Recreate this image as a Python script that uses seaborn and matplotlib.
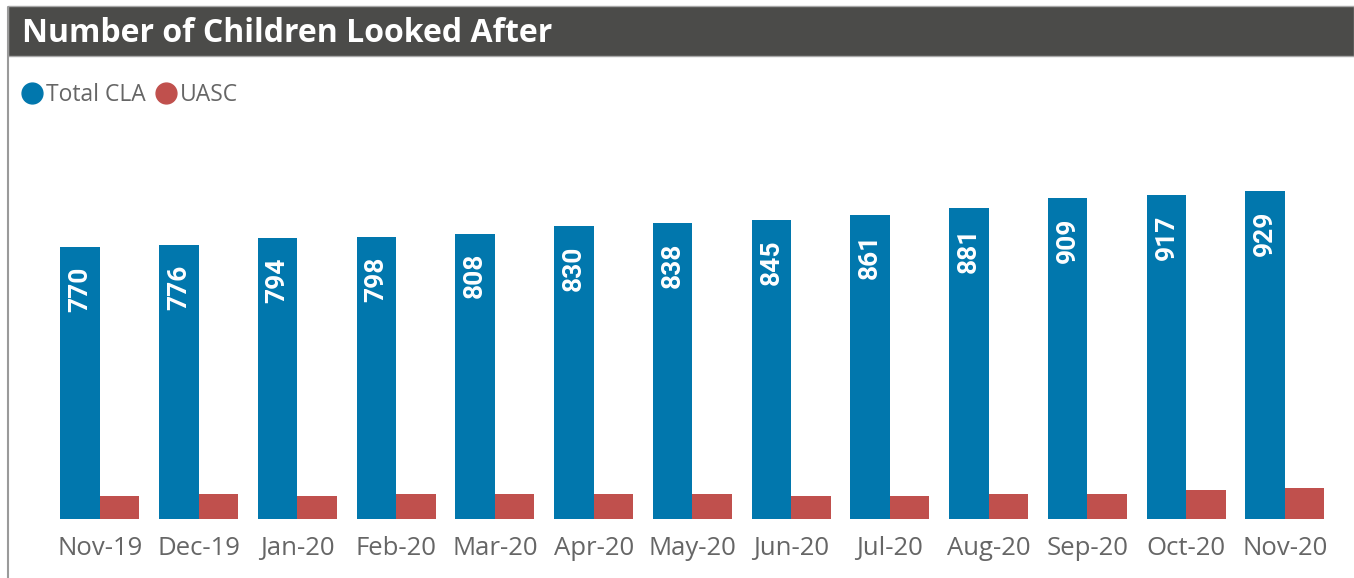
import matplotlib
matplotlib.use("Agg")
import matplotlib.pyplot as plt
from matplotlib.patches import Rectangle
from matplotlib.lines import Line2D
import seaborn as sns
import pandas as pd

months = ["Nov-19", "Dec-19", "Jan-20", "Feb-20", "Mar-20", "Apr-20", "May-20",
          "Jun-20", "Jul-20", "Aug-20", "Sep-20", "Oct-20", "Nov-20"]
total_cla = [770, 776, 794, 798, 808, 830, 838, 845, 861, 881, 909, 917, 929]
uasc = [66, 71, 66, 71, 71, 71, 71, 66, 66, 71, 71, 82, 88]

blue = "#0177AD"
red = "#C0504D"
grey_text = "#666666"

df = pd.DataFrame({
    "Month": months * 2,
    "Value": total_cla + uasc,
    "Series": ["Total CLA"] * len(months) + ["UASC"] * len(months),
})

sns.set_style("white")
plt.rcParams["font.family"] = ["Open Sans", "DejaVu Sans"]

W, H = 1354, 578
fig = plt.figure(figsize=(W / 100, H / 100), dpi=100)
fig.patch.set_facecolor("white")

# title bar + left frame line
fig.patches.append(Rectangle((8 / W, 1 - 56 / H), 1 - 8 / W, 50 / H,
                             transform=fig.transFigure, facecolor="#4B4B49",
                             edgecolor="#A8A8A8", lw=1, zorder=0))
fig.add_artist(Line2D([8 / W, 8 / W], [0, 1 - 7 / H], transform=fig.transFigure,
                      color="#9A9A9A", lw=1.5))
fig.text(22 / W, 1 - 34 / H, "Number of Children Looked After", color="white",
         fontsize=23, fontweight="bold", va="center", ha="left")

ax = fig.add_axes([50.6 / W, 1 - 519 / H, 1283.75 / W, 389 / H])
sns.barplot(data=df, x="Month", y="Value", hue="Series", palette=[blue, red],
            width=0.8, ax=ax, legend=False, saturation=1, linewidth=0)

ax.set_xlim(-0.5, 12.5)
ax.set_ylim(0, 1101)
for s in ax.spines.values():
    s.set_visible(False)
ax.set_yticks([])
ax.set_xlabel("")
ax.set_ylabel("")
ax.tick_params(axis="x", length=0, pad=12, labelsize=18.5, labelcolor=grey_text)

# value labels inside Total CLA bars
bars = ax.containers[0]
for rect, v in zip(bars, total_cla):
    ax.annotate(str(v), (rect.get_x() + rect.get_width() / 2, v),
                xytext=(0, -14), textcoords="offset points", rotation=90,
                ha="center", va="top", color="white", fontsize=19,
                fontweight="bold", family=["Roboto", "DejaVu Sans"])

handles = [Line2D([], [], marker="o", ls="none", markersize=15, color=blue),
           Line2D([], [], marker="o", ls="none", markersize=15, color=red)]
fig.legend(handles, ["Total CLA", "UASC"], loc="center left",
           bbox_to_anchor=(18 / W, 1 - 95 / H), ncol=2, frameon=False,
           handletextpad=0.0, columnspacing=0.3, handlelength=1.2,
           fontsize=16.5, labelcolor=grey_text, borderaxespad=0, borderpad=0)

fig.savefig("out.png", dpi=100)
